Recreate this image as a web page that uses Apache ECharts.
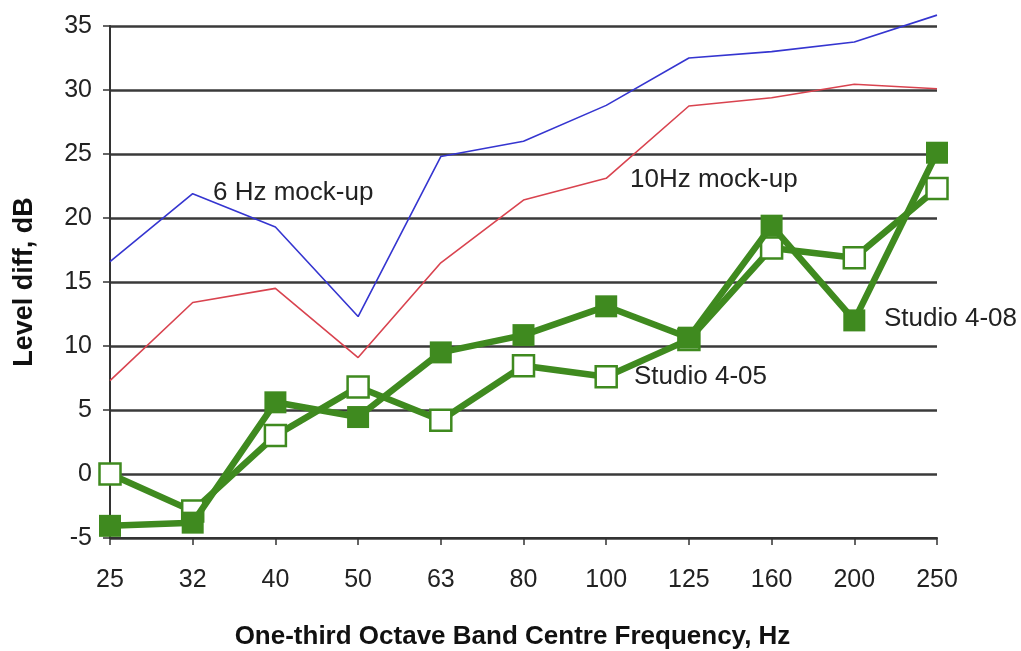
<!DOCTYPE html>
<html>
<head>
<meta charset="utf-8">
<script src="https://cdn.jsdelivr.net/npm/echarts@6/dist/echarts.min.js"></script>
<style>html,body{margin:0;padding:0;background:#fff}#c{width:1021px;height:651px}</style>
</head>
<body>
<div id="c"></div>
<script>
const categories = ['25','32','40','50','63','80','100','125','160','200','250'];
const mock6Hz   = [16.6, 21.9, 19.3, 12.3, 24.8, 26.0, 28.8, 32.5, 33.0, 33.75, 35.85];
const mock10Hz  = [7.3, 13.4, 14.5, 9.1, 16.5, 21.4, 23.1, 28.75, 29.4, 30.45, 30.1];
const studio408 = [-4.05, -3.8, 5.6, 4.45, 9.5, 10.85, 13.1, 10.65, 19.4, 12.0, 25.1];
const studio405 = [0.0, -2.9, 3.0, 6.8, 4.2, 8.45, 7.6, 10.5, 17.65, 16.9, 22.3];
const yTicks = {min: -5, max: 35, interval: 5};

const green = '#3f8a1f';
const font = 'Liberation Sans, Arial, sans-serif';
const chart = echarts.init(document.getElementById('c'));
chart.setOption({
  animation: false,
  backgroundColor: '#fff',
  grid: {left: 110, right: 84, top: 26, bottom: 113, outerBoundsMode: 'none', containLabel: false},
  xAxis: {
    type: 'category', data: categories, boundaryGap: false,
    name: 'One-third Octave Band Centre Frequency, Hz',
    nameLocation: 'middle', nameGap: 86,
    nameTextStyle: {fontFamily: font, fontSize: 26, fontWeight: 'bold', color: '#111', padding: [0, 22, 0, 0]},
    axisLine: {onZero: false, lineStyle: {color: '#333', width: 2}},
    axisTick: {show: true, length: 7, lineStyle: {color: '#333', width: 1.5}},
    axisLabel: {fontFamily: font, fontSize: 25, color: '#222', margin: 30},
    splitLine: {show: false}
  },
  yAxis: {
    type: 'value', min: yTicks.min, max: yTicks.max, interval: yTicks.interval,
    name: 'Level diff, dB', nameLocation: 'middle', nameGap: 72, nameRotate: 90,
    nameTextStyle: {fontFamily: font, fontSize: 27, fontWeight: 'bold', color: '#111'},
    axisLine: {show: true, lineStyle: {color: '#333', width: 2}},
    axisTick: {show: true, length: 7, lineStyle: {color: '#333', width: 1.5}},
    axisLabel: {fontFamily: font, fontSize: 25, color: '#222', margin: 18},
    splitLine: {show: true, lineStyle: {color: '#3a3a3a', width: 2.5}}
  },
  series: [
    {name: '6 Hz mock-up', type: 'line', data: mock6Hz, showSymbol: false, symbol: 'none', clip: false,
     lineStyle: {color: '#3535d0', width: 1.6}, z: 3},
    {name: '10Hz mock-up', type: 'line', data: mock10Hz, showSymbol: false, symbol: 'none', clip: false,
     lineStyle: {color: '#d9434f', width: 1.6}, z: 3},
    {name: 'Studio 4-05', type: 'line', data: studio405, symbol: 'rect', symbolSize: 21, clip: false,
     lineStyle: {color: green, width: 6.5},
     itemStyle: {color: '#fff', borderColor: green, borderWidth: 2.5}, z: 4},
    {name: 'Studio 4-08', type: 'line', data: studio408, symbol: 'rect', symbolSize: 22, clip: false,
     lineStyle: {color: green, width: 6.5},
     itemStyle: {color: green, borderColor: green, borderWidth: 0}, z: 5}
  ],
  graphic: [
    {type: 'text', left: 213, top: 180, z: 10, style: {text: '6 Hz mock-up', font: '26px ' + font, fill: '#222'}},
    {type: 'text', left: 630, top: 167, z: 10, style: {text: '10Hz mock-up', font: '26px ' + font, fill: '#222'}},
    {type: 'text', left: 884, top: 306, z: 10, style: {text: 'Studio 4-08', font: '26px ' + font, fill: '#222'}},
    {type: 'text', left: 634, top: 364, z: 10, style: {text: 'Studio 4-05', font: '26px ' + font, fill: '#222'}}
  ]
});
</script>
</body>
</html>
